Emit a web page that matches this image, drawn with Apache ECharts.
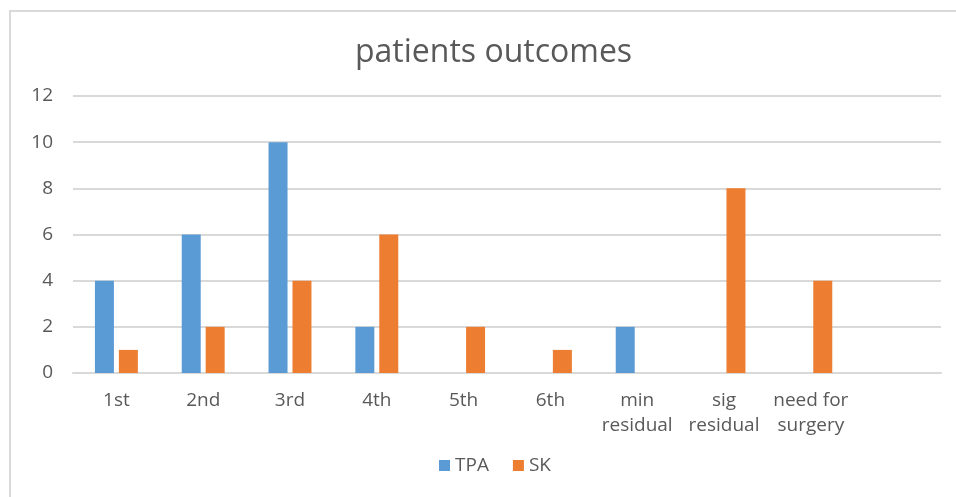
<!DOCTYPE html>
<html><head><meta charset="utf-8">
<script src="https://cdn.jsdelivr.net/npm/echarts@6/dist/echarts.min.js"></script>
<style>html,body{margin:0;padding:0;background:#fff}#c{width:956px;height:497px}</style>
</head><body><div id="c"></div>
<script>
const categories = ["1st","2nd","3rd","4th","5th","6th","min\nresidual","sig\nresidual","need for\nsurgery",""];
const tpa = [4,6,10,2,0,0,2,0,0,null];
const sk  = [1,2,4,6,2,1,0,8,4,null];
const yTicks = {min:0,max:12,interval:2};

const chart = echarts.init(document.getElementById('c'));
const txt = '#595959';
const font = 'Open Sans';
chart.setOption({
  animation:false,
  graphic:[{type:'rect',shape:{x:10,y:11,width:1000,height:600},style:{fill:'none',stroke:'#d9d9d9',lineWidth:2},silent:true}],
  title:{text:'patients outcomes',left:350,top:32,textStyle:{color:txt,fontSize:32,fontWeight:'normal',fontFamily:font}},
  legend:{bottom:17,left:434,itemWidth:11,itemHeight:11,itemGap:24,icon:'rect',textStyle:{color:txt,fontSize:19,fontFamily:font},data:['TPA','SK']},
  grid:{left:73,right:15,top:96,bottom:124,containLabel:false},
  xAxis:{type:'category',data:categories,axisLine:{lineStyle:{color:'#d9d9d9',width:2}},axisTick:{show:false},
    axisLabel:{color:txt,fontSize:19,fontFamily:font,margin:15,lineHeight:25,interval:0}},
  yAxis:{type:'value',min:yTicks.min,max:yTicks.max,interval:yTicks.interval,axisLine:{show:false},axisTick:{show:false},
    splitLine:{lineStyle:{color:'#d9d9d9',width:2}},axisLabel:{color:txt,fontSize:19,fontFamily:font,margin:20}},
  series:[
    {name:'TPA',type:'bar',data:tpa,barWidth:19,barGap:'26%',itemStyle:{color:'#5b9bd5'}},
    {name:'SK',type:'bar',data:sk,barWidth:19,itemStyle:{color:'#ed7d31'}}
  ]
});
</script></body></html>
